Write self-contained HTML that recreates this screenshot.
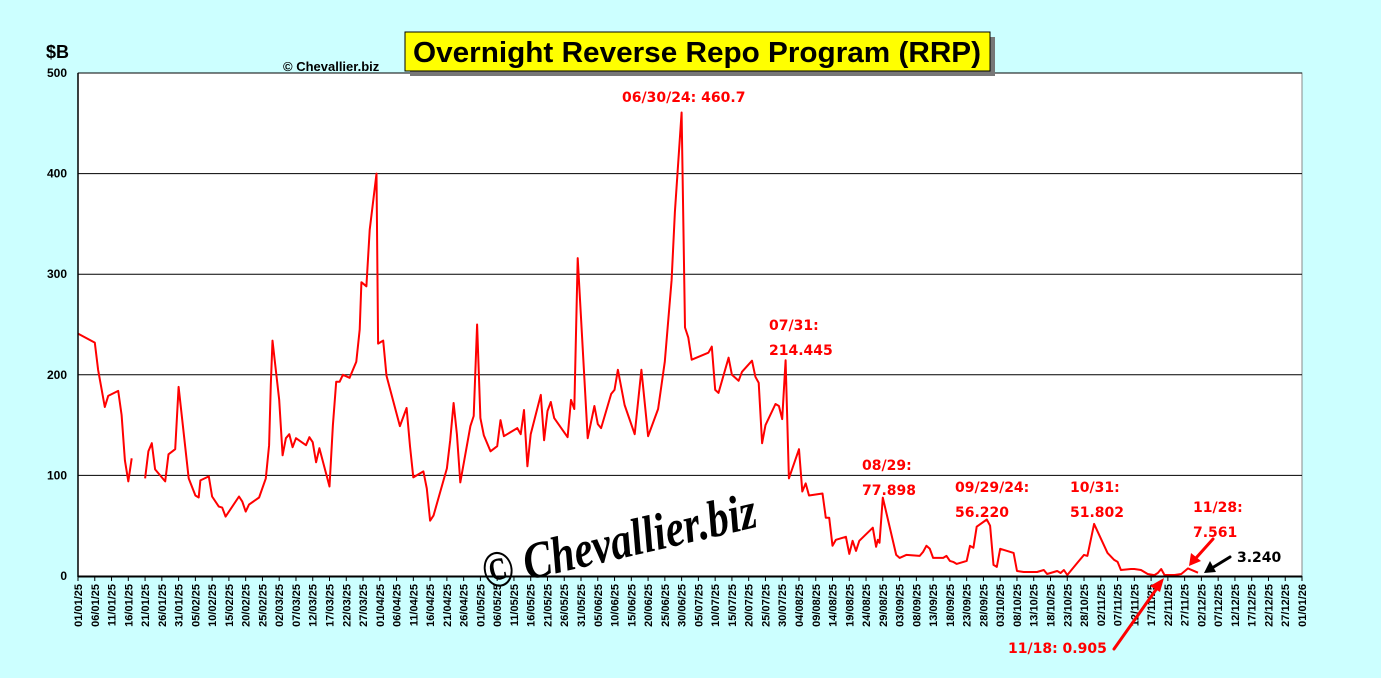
<!DOCTYPE html>
<html><head><meta charset="utf-8"><style>
body{margin:0;background:#ccffff;width:1381px;height:673px;overflow:hidden;font-family:"Liberation Sans",sans-serif}
</style></head><body>
<svg id="chart" width="1381" height="673" xmlns="http://www.w3.org/2000/svg" font-family="Liberation Sans, sans-serif">
<rect x="0" y="0" width="1381" height="673" fill="#ccffff"/>
<rect x="78" y="73" width="1224" height="503" fill="#fff" stroke="#888" stroke-width="1"/>
<g id="grid"></g>
<g id="xticks"></g>
<g id="yticks"></g>
<text x="475" y="560" font-size="52" font-weight="bold" font-style="italic" font-family="Liberation Serif, serif" textLength="280" lengthAdjust="spacingAndGlyphs" transform="rotate(-13 610 525)">© Chevallier.biz</text>
<path id="series" fill="none" stroke="#ff0000" stroke-width="2" stroke-linejoin="round"/>
<line x1="78" y1="73" x2="78" y2="577" stroke="#000" stroke-width="1.5"/>
<line x1="78" y1="576.5" x2="1302" y2="576.5" stroke="#000" stroke-width="2"/>
<text x="46" y="58" font-size="18" font-weight="bold">$B</text>
<text x="283" y="71" font-size="13" font-weight="bold">© Chevallier.biz</text>
<rect x="410" y="37" width="585" height="39" fill="#777"/>
<rect x="405" y="32" width="585" height="39" fill="#ffff00" stroke="#000" stroke-width="1"/>
<text x="697" y="62" font-size="29" font-weight="bold" text-anchor="middle" textLength="568" lengthAdjust="spacingAndGlyphs">Overnight Reverse Repo Program (RRP)</text>
<g font-size="14" font-weight="bold" fill="#ff0000" font-family="DejaVu Sans, sans-serif">
<text x="622" y="102">06/30/24: 460.7</text>
<text x="769" y="330">07/31:</text>
<text x="769" y="355">214.445</text>
<text x="862" y="470">08/29:</text>
<text x="862" y="495">77.898</text>
<text x="955" y="492">09/29/24:</text>
<text x="955" y="517">56.220</text>
<text x="1070" y="492">10/31:</text>
<text x="1070" y="517">51.802</text>
<text x="1193" y="512">11/28:</text>
<text x="1193" y="537">7.561</text>
<text x="1008" y="653">11/18: 0.905</text>
</g>
<text x="1237" y="562" font-size="14" font-weight="bold" font-family="DejaVu Sans, sans-serif">3.240</text>
<g stroke-width="3" stroke-linecap="round">
<line x1="1114" y1="649" x2="1160" y2="584" stroke="#f00"/>
<polygon points="1164,578 1150,586 1160,592" fill="#f00"/>
<line x1="1213" y1="539" x2="1196" y2="558" stroke="#f00"/>
<polygon points="1189,566 1191,553 1201,561" fill="#f00"/>
<line x1="1230" y1="557" x2="1212" y2="568" stroke="#000"/>
<polygon points="1204,573 1210,561 1216,572" fill="#000"/>
</g>
</svg>
<script>
const days=[0,5,6,8,9,12,13,14,15,16,18,20,21,22,23,26,27,29,30,33,35,36,36.5,39,40,42,43,44,48,49,50,51,54,56,57,57.5,58,60,61,62,63,64,65,68,69,70,71,72,75,76,77,78,79,81,83,84,84.5,86,87,89,89.5,91,92,96,98,99,100,103,104,105,106,110,111,112,113,114,117,118,119,120,121,123,125,126,127,131,132,133,134,135,138,139,140,141,142,146,147,148,149,152,154,155,156,159,160,161,163,166,168,170,173,175,177,178,180,181,182,183,188,189,190,191,194,195,197,198,201,202,203,204,205,208,209,210,211,212,215,216,217,218,222,223,224,225,226,229,230,231,232,233,237,238,238.5,239,240,244,245,247,251,252,253,254,255,258,259,260,261,262,265,266,267,268,271,272,273,274,275,279,280,282,286,288,289,292,293,294,295,298,300,301,303,307,309,310,311,314,315,317,319,321,322,323,324,327,329,331,334];
const values=[241,232,205,168,179,184,160,115,94,117,null,97,124,132,106,94,121,126,188,97,80,78,95,99,79,69,68,59,79,74,64,71,78,97,130,190,234,175,120,137,141,128,137,130,138,133,113,127,89,150,193,193,200,197,213,245,292,288,344,400,231,234,199,149,167,129,98,104,87,55,60,107,135,172,141,93,149,159,250,157,140,124,129,155,139,147,141,165,109,141,180,135,164,173,157,138,175,166,316,137,169,151,147,181,185,205,170,141,205,139,166,213,294,362,460.7,247,237,215,222,228,185,182,217,200,194,203,214,198,192,132,150,171,169,156,214.4,97,126,84,92,80,82,58,58,30,36,39,22,35,25,35,48,29,36,33,77.9,21,18,21,20,24,30,27,18,18,20,15,14,12,15,30,28,49,56.2,50,11,9,27,23,5,4,4,6,2,5,3,6,1,13,21,20,51.8,23,16,14,6,7,7,6,2,0.9,3,7,1,1,2,7.56,3.24];
const yTicks=[0,100,200,300,400,500];
const x0=78,x1=1302,yb=576,yt=73;
const X=d=>x0+d*(x1-x0)/365;
const Y=v=>yb-v*(yb-yt)/500;
const ns="http://www.w3.org/2000/svg";
const grid=document.getElementById('grid'),yt_g=document.getElementById('yticks'),xt=document.getElementById('xticks');
yTicks.forEach(v=>{
  if(v>0){const l=document.createElementNS(ns,'line');
  
  
  l.setAttribute('x1',x0);l.setAttribute('x2',x1);l.setAttribute('y1',Y(v));l.setAttribute('y2',Y(v));l.setAttribute('stroke','#000');l.setAttribute('stroke-width','1');grid.appendChild(l);}
  const t=document.createElementNS(ns,'text');
  
  
  t.setAttribute('x',67);t.setAttribute('y',Y(v)+4);t.setAttribute('text-anchor','end');t.setAttribute('font-size','12');t.setAttribute('font-weight','bold');t.textContent=v;yt_g.appendChild(t);
});
const start=Date.UTC(2025,0,1);
for(let d=0;d<=365;d+=5){
  const dt=new Date(start+d*864e5);
  const lab=String(dt.getUTCDate()).padStart(2,'0')+'/'+String(dt.getUTCMonth()+1).padStart(2,'0')+'/'+String(dt.getUTCFullYear()).slice(2);
  const x=X(d);
  const l=document.createElementNS(ns,'line');
  
  
  l.setAttribute('x1',x);l.setAttribute('x2',x);l.setAttribute('y1',576);l.setAttribute('y2',581);l.setAttribute('stroke','#000');xt.appendChild(l);
  const t=document.createElementNS(ns,'text');
  
  
  t.setAttribute('transform','translate('+(x+4)+',584) rotate(-90)');t.setAttribute('text-anchor','end');t.setAttribute('font-size','11');t.setAttribute('font-weight','bold');t.textContent=lab;xt.appendChild(t);
}
let p='',pen=false;
days.forEach((d,i)=>{const v=values[i];if(v===null){pen=false;return;}p+=(pen?'L':'M')+X(d).toFixed(1)+','+Y(v).toFixed(1);pen=true;});
document.getElementById('series').setAttribute('d',p);
</script>
</body></html>
